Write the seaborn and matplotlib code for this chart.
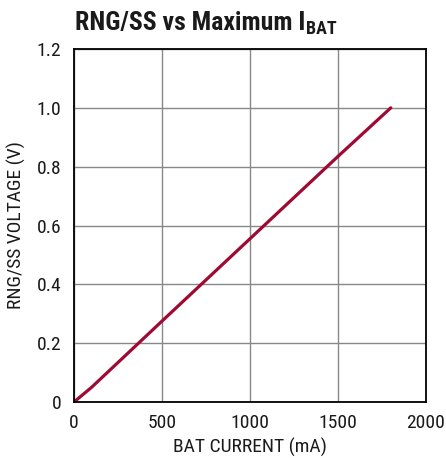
import matplotlib
matplotlib.use("Agg")
import matplotlib.pyplot as plt
from matplotlib import font_manager
import seaborn as sns
import pandas as pd
import os

current_ma = [0, 100, 500, 1000, 1500, 1800]
voltage_v = [0, 0.05, 0.275, 0.555, 0.835, 1.0]
x_ticks = [0, 500, 1000, 1500, 2000]
y_ticks = [0, 0.2, 0.4, 0.6, 0.8, 1.0, 1.2]
y_tick_labels = ["0", "0.2", "0.4", "0.6", "0.8", "1.0", "1.2"]

sns.set_theme(style="white")

files = font_manager.findSystemFonts()
def pick(cands):
    for c in cands:
        for f in files:
            if os.path.basename(f).lower() == c.lower():
                return f
    return None

reg = pick(["LiberationSansNarrow-Regular.ttf", "RobotoCondensed-Regular.ttf",
            "DejaVuSansCondensed.ttf"])
bold = pick(["LiberationSansNarrow-Bold.ttf", "RobotoCondensed-Bold.ttf",
             "DejaVuSansCondensed-Bold.ttf"])
if reg:
    font_manager.fontManager.addfont(reg)
    fp_reg = font_manager.FontProperties(fname=reg)
else:
    fp_reg = font_manager.FontProperties(family="Liberation Sans")
if bold:
    font_manager.fontManager.addfont(bold)
    fp_bold = font_manager.FontProperties(fname=bold)
else:
    fp_bold = font_manager.FontProperties(family="Liberation Sans", weight="bold")

plt.rcParams["font.family"] = ["Liberation Sans", "DejaVu Sans"]

df = pd.DataFrame({"I": current_ma, "V": voltage_v})

fig = plt.figure(figsize=(4.46, 4.58), dpi=100)
ax = fig.add_axes([74/446, 1-402/458, 352/446, 353/458])
sns.lineplot(data=df, x="I", y="V", ax=ax, color="#9e0a33", linewidth=2.3)
ax.set_xlim(0, 2000)
ax.set_ylim(0, 1.2)
ax.set_xticks(x_ticks)
ax.set_xticklabels([str(t) for t in x_ticks])
ax.set_yticks(y_ticks)
ax.set_yticklabels(y_tick_labels)
ax.grid(True, color="#888888", linewidth=1.0)
for s in ax.spines.values():
    s.set_color("black")
    s.set_linewidth(1.3)
ax.tick_params(axis="both", length=0, pad=9, colors="#1a1a1a")
for lab in ax.get_xticklabels() + ax.get_yticklabels():
    lab.set_fontproperties(fp_reg)
    lab.set_fontsize(14)
ax.set_xlabel("BAT CURRENT (mA)", fontproperties=fp_reg, fontsize=14, color="#1a1a1a", labelpad=4)
ax.set_ylabel("RNG/SS VOLTAGE (V)", fontproperties=fp_reg, fontsize=14, color="#1a1a1a", labelpad=8)

t1 = fig.text(75/446, 1-30/458, "RNG/SS vs Maximum I", fontproperties=fp_bold,
              fontsize=18.5, ha="left", va="baseline", color="#1a1a1a")
fig.canvas.draw()
bb = t1.get_window_extent()
fig.text(bb.x1/446 + 0.002, 1-34/458, "BAT", fontproperties=fp_bold,
         fontsize=13, ha="left", va="baseline", color="#1a1a1a")
fig.savefig("out.png", dpi=100)
